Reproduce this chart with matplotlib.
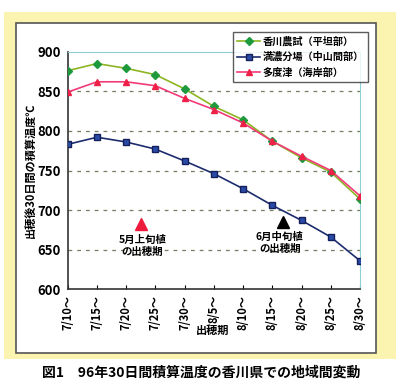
import matplotlib.pyplot as plt
from matplotlib.patches import Rectangle

plt.rcParams['font.family'] = ['Noto Sans CJK JP', 'DejaVu Sans']

dates = ['7/10～', '7/15～', '7/20～', '7/25～', '7/30～', '8/5～',
         '8/10～', '8/15～', '8/20～', '8/25～', '8/30～']
kagawa = [876, 885, 879, 871, 853, 831, 814, 787, 766, 748, 714]
mannou = [783, 792, 786, 777, 762, 746, 727, 706, 687, 666, 636]
tadotsu = [849, 862, 862, 857, 841, 827, 810, 787, 768, 750, 718]
names = ['香川農試（平坦部）', '満濃分場（中山間部）', '多度津（海岸部）']

# heading periods (x index, value)
may_pos = (2.5, 682)
june_pos = (7.35, 685)
may_text = '5月上旬植\nの出穂期'
june_text = '6月中旬植\nの出穂期'

W, H = 400, 387
fig = plt.figure(figsize=(W / 100, H / 100), dpi=100)
fig.patch.set_facecolor('white')

# paper / frame
fig.patches.append(Rectangle((4 / W, 1 - 359 / H), 392 / W, 347 / H,
                             transform=fig.transFigure, facecolor='#fbf4b0',
                             edgecolor='none', zorder=-3))
fig.patches.append(Rectangle((16 / W, 1 - 353 / H), 360 / W, 330 / H,
                             transform=fig.transFigure, facecolor='white',
                             edgecolor='#555555', lw=1.2, zorder=-2))

ax = fig.add_axes([67.7 / W, 1 - 289.3 / H, 292.3 / W, 237.6 / H])
ax.set_facecolor('none')
x = list(range(len(dates)))

ax.plot(x, kagawa, color='#8cb521', lw=1.2, marker='D', ms=4,
        mfc='#1e9a3c', mec='#1e9a3c', label=names[0], zorder=3)
ax.plot(x, mannou, color='#1c2c6e', lw=1.2, marker='s', ms=4.5,
        mfc='#2a4aa8', mec='#14205a', label=names[1], zorder=3)
ax.plot(x, tadotsu, color='#f23a78', lw=1.2, marker='^', ms=5,
        mfc='#ee2048', mec='#ee2048', label=names[2], zorder=4)

ax.plot(*may_pos, marker='^', ms=8, color='#ee1c3c', ls='none')
ax.plot(*june_pos, marker='^', ms=8, color='black', ls='none')
ax.text(may_pos[0] + 0.05, may_pos[1] - 13, may_text, ha='center', va='top',
        fontsize=7.5, fontweight='bold', linespacing=1.25)
ax.text(june_pos[0] - 0.1, june_pos[1] - 13, june_text, ha='center', va='top',
        fontsize=7.5, fontweight='bold', linespacing=1.25)

ax.set_xlim(0, 10)
ax.set_ylim(600, 900)
ax.set_yticks(range(600, 901, 50))
ax.set_xticks(x)
ax.set_xticklabels(dates, rotation=90, fontsize=8, fontweight='bold')
ax.tick_params(axis='y', length=0, labelsize=9.5, pad=5)
ax.tick_params(axis='x', direction='in', length=3, pad=4)
for t in ax.get_yticklabels():
    t.set_fontweight('bold')

for v in range(650, 900, 50):
    ax.axhline(v, color='#707f60', lw=0.9, ls=(0, (3, 4)), zorder=1)

ax.spines['left'].set_color('#333333')
ax.spines['bottom'].set_color('#333333')
ax.spines['left'].set_linewidth(1.2)
ax.spines['bottom'].set_linewidth(1.2)
ax.spines['top'].set_color('#8ccfd8')
ax.spines['right'].set_color('#8ccfd8')

fig.text(30 / W, 1 - 170 / H, '出穂後30日間の積算温度℃', rotation=90,
         ha='center', va='center', fontsize=8, fontweight='bold')
fig.text(213 / W, 1 - 330 / H, '出穂期', ha='center', va='center',
         fontsize=8, fontweight='bold')

leg = ax.legend(loc='upper right', bbox_to_anchor=(368 / W, 1 - 32 / H),
                bbox_transform=fig.transFigure,
                prop={'weight': 'bold', 'size': 7.3}, frameon=True,
                fancybox=False, edgecolor='#333333', handlelength=2.2,
                handletextpad=0.3, labelspacing=0.55, borderpad=0.4,
                borderaxespad=0)
leg.get_frame().set_linewidth(1.0)

fig.text(201 / W, 1 - 373 / H, '図1　96年30日間積算温度の香川県での地域間変動',
         ha='center', va='center', fontsize=10, fontweight='bold')

fig.savefig('out.png', dpi=100, facecolor=fig.get_facecolor())
